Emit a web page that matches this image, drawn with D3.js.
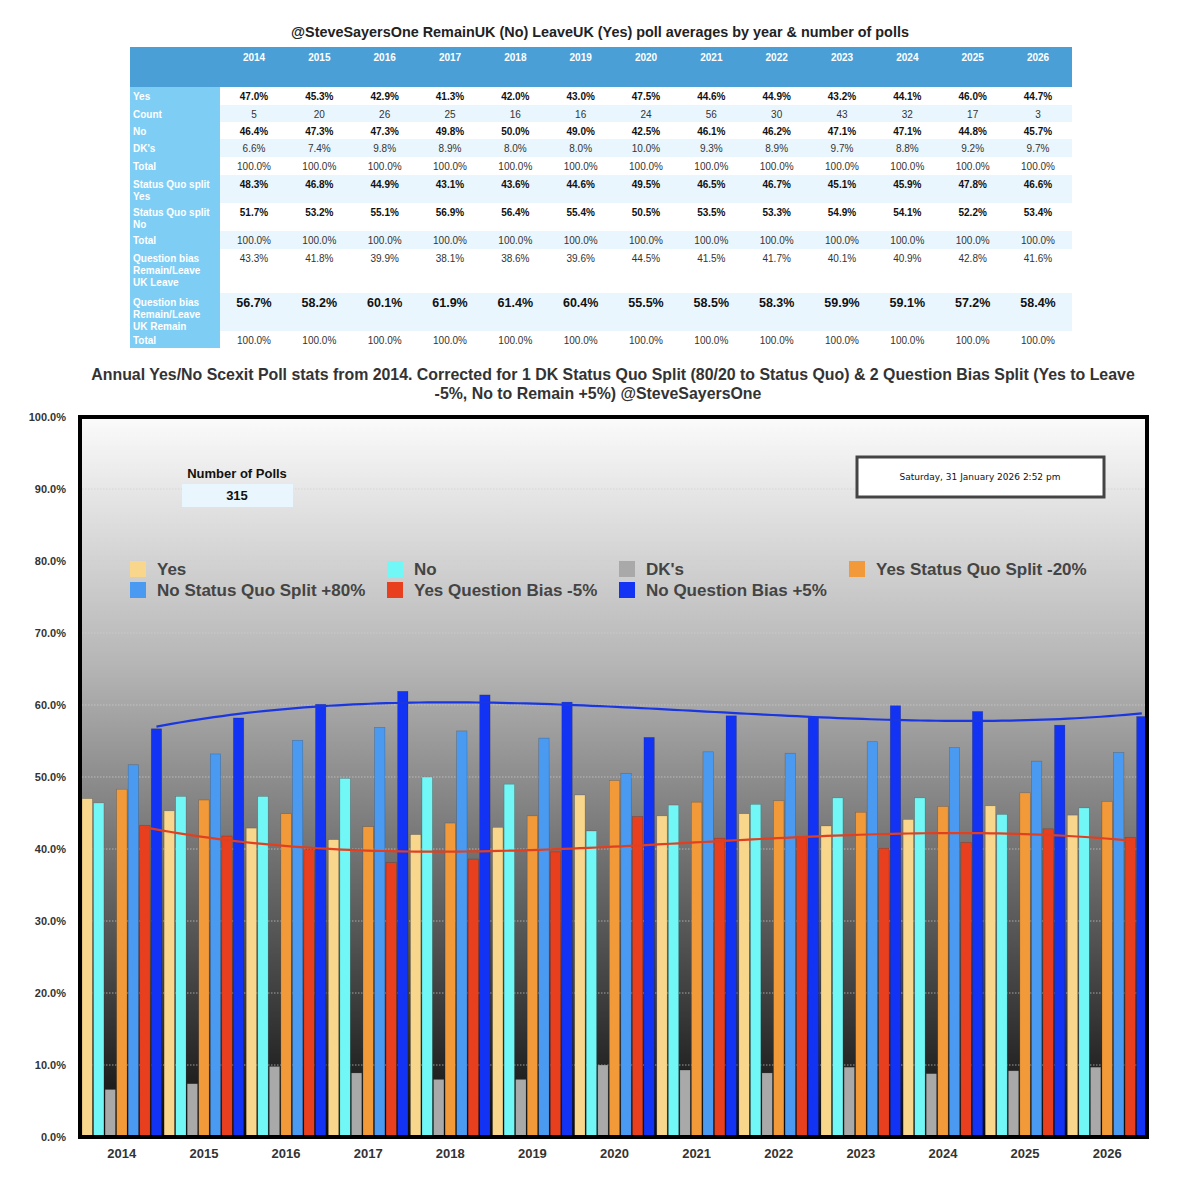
<!DOCTYPE html>
<html><head><meta charset="utf-8">
<script src="https://cdn.jsdelivr.net/npm/d3@7/dist/d3.min.js"></script>
<style>body{margin:0;background:#fff} svg{display:block} text{font-family:"Liberation Sans",Arial,Helvetica,sans-serif}</style>
</head><body>
<svg id="c" width="1200" height="1187"></svg>
<script>
// ---------------- DATA ----------------
const years = [2014,2015,2016,2017,2018,2019,2020,2021,2022,2023,2024,2025,2026];
const yesVals      = [47.0,45.3,42.9,41.3,42.0,43.0,47.5,44.6,44.9,43.2,44.1,46.0,44.7];
const countVals    = [5,20,26,25,16,16,24,56,30,43,32,17,3];
const noVals       = [46.4,47.3,47.3,49.8,50.0,49.0,42.5,46.1,46.2,47.1,47.1,44.8,45.7];
const dkVals       = [6.6,7.4,9.8,8.9,8.0,8.0,10.0,9.3,8.9,9.7,8.8,9.2,9.7];
const totalVals    = [100.0,100.0,100.0,100.0,100.0,100.0,100.0,100.0,100.0,100.0,100.0,100.0,100.0];
const sqYesVals    = [48.3,46.8,44.9,43.1,43.6,44.6,49.5,46.5,46.7,45.1,45.9,47.8,46.6];
const sqNoVals     = [51.7,53.2,55.1,56.9,56.4,55.4,50.5,53.5,53.3,54.9,54.1,52.2,53.4];
const qbLeaveVals  = [43.3,41.8,39.9,38.1,38.6,39.6,44.5,41.5,41.7,40.1,40.9,42.8,41.6];
const qbRemainVals = [56.7,58.2,60.1,61.9,61.4,60.4,55.5,58.5,58.3,59.9,59.1,57.2,58.4];
const yTicks = [0,10,20,30,40,50,60,70,80,90,100];
const seriesNames = ["Yes","No","DK's","Yes Status Quo Split -20%","No Status Quo Split +80%","Yes Question Bias -5%","No Question Bias +5%"];
const seriesColors = ["#f8d68c","#72f7f7","#a9a9a9","#f29a3a","#4a9af2","#e8401f","#1233f3"];
const numberOfPolls = 315;
const dateText = "Saturday, 31 January 2026 2:52 pm";
const tableTitle = "@SteveSayersOne RemainUK (No) LeaveUK (Yes) poll averages by year & number of polls";
const chartTitle1 = "Annual Yes/No Scexit Poll stats from 2014. Corrected for 1 DK Status Quo Split (80/20 to Status Quo) & 2 Question Bias Split (Yes to Leave";
const chartTitle2 = "-5%, No to Remain +5%) @SteveSayersOne";

// ---------------- SVG ----------------
const svg = d3.select("#c");
const pct = d => d.toFixed(1) + "%";

// ---------------- TABLE ----------------
svg.append("text").attr("x",600).attr("y",37).attr("text-anchor","middle")
  .attr("font-size",14.4).attr("font-weight","bold").attr("fill","#222").text(tableTitle);

const tL = 130, tR = 1072, labW = 90;
const rows = [
  {label:["Yes"], vals:yesVals, fmt:pct, bold:true},
  {label:["Count"], vals:countVals, fmt:d=>String(d), bold:false},
  {label:["No"], vals:noVals, fmt:pct, bold:true},
  {label:["DK's"], vals:dkVals, fmt:pct, bold:false},
  {label:["Total"], vals:totalVals, fmt:pct, bold:false},
  {label:["Status Quo split","Yes"], vals:sqYesVals, fmt:pct, bold:true},
  {label:["Status Quo split","No"], vals:sqNoVals, fmt:pct, bold:true},
  {label:["Total"], vals:totalVals, fmt:pct, bold:false},
  {label:["Question bias","Remain/Leave","UK Leave"], vals:qbLeaveVals, fmt:pct, bold:false},
  {label:["Question bias","Remain/Leave","UK Remain"], vals:qbRemainVals, fmt:pct, bold:true, big:true},
  {label:["Total"], vals:totalVals, fmt:pct, bold:false}
];
const rowTops = [87,105,122,139,157,175,203,231,249,293,331,348];

// header
svg.append("rect").attr("x",tL).attr("y",47).attr("width",tR-tL).attr("height",40).attr("fill","#4a9fd6");
// row stripes
rows.forEach((r,i)=>{
  svg.append("rect").attr("x",tL+labW).attr("y",rowTops[i]).attr("width",tR-tL-labW)
    .attr("height",rowTops[i+1]-rowTops[i]).attr("fill", i%2===1 ? "#eaf6fd" : "#ffffff");
});
// label column
svg.append("rect").attr("x",tL).attr("y",87).attr("width",labW).attr("height",348-87).attr("fill","#7dcdf5");

const colX = d3.scalePoint().domain(years).range([254,1038]);
svg.append("g").selectAll("text").data(years).join("text")
  .attr("x",d=>colX(d)).attr("y",61).attr("text-anchor","middle")
  .attr("font-size",10).attr("font-weight","bold").attr("fill","#fff").text(d=>d);

rows.forEach((r,i)=>{
  const cy = rowTops[i] + 9;
  const lab = svg.append("text").attr("x",tL+3).attr("y",cy+3.5)
    .attr("font-size",10).attr("font-weight","bold").attr("fill","#fff");
  r.label.forEach((l,j)=>lab.append("tspan").attr("x",tL+3).attr("dy", j===0?0:12).text(l));
  svg.append("g").selectAll("text").data(r.vals).join("text")
    .attr("x",(d,k)=>colX(years[k])).attr("y",cy + (r.big?4.5:3.5)).attr("text-anchor","middle")
    .attr("font-size", r.big?12.5:10).attr("font-weight", r.bold?"bold":"normal")
    .attr("fill", r.bold ? "#111" : "#333").text(d=>r.fmt(d));
});

// ---------------- CHART ----------------
svg.append("text").attr("x",613).attr("y",380).attr("text-anchor","middle")
  .attr("font-size",15.9).attr("font-weight","bold").attr("fill","#333").text(chartTitle1);
svg.append("text").attr("x",598).attr("y",399).attr("text-anchor","middle")
  .attr("font-size",15.9).attr("font-weight","bold").attr("fill","#333").text(chartTitle2);

const pL = 80, pR = 1147, pT = 417, pB = 1137;
const y = d3.scaleLinear().domain([0,100]).range([pB,pT]);
const x = d3.scaleBand().domain(years).range([82,1147]).paddingInner(0.03).paddingOuter(0);
const xi = d3.scaleBand().domain(d3.range(seriesNames.length)).range([0,x.bandwidth()]).paddingInner(0.1);

const defs = svg.append("defs");
const grad = defs.append("linearGradient").attr("id","bg").attr("x1",0).attr("y1",0).attr("x2",0).attr("y2",1);
grad.append("stop").attr("offset","0%").attr("stop-color","#fbfbfb");
grad.append("stop").attr("offset","35%").attr("stop-color","#b4b4b4");
grad.append("stop").attr("offset","100%").attr("stop-color","#0c0c0c");
svg.append("rect").attr("x",pL).attr("y",pT).attr("width",pR-pL).attr("height",pB-pT).attr("fill","url(#bg)");

// gridlines
svg.append("g").selectAll("line").data(yTicks.filter(d=>d>0 && d<100)).join("line")
  .attr("x1",pL+2).attr("x2",pR-2).attr("y1",d=>y(d)).attr("y2",d=>y(d))
  .attr("stroke","#cfcfcf").attr("stroke-opacity",0.7).attr("stroke-width",1).attr("stroke-dasharray","1.5,1.5");

// y axis
const yAx = svg.append("g").attr("transform",`translate(${pL},0)`)
  .call(d3.axisLeft(y).tickValues(yTicks).tickFormat(d=>d.toFixed(1)+"%").tickSize(0).tickPadding(14));
yAx.select(".domain").remove();
yAx.selectAll("text").attr("font-size",11).attr("font-weight","bold").attr("fill","#333")
  .style("font-family",'"Liberation Sans",Arial,sans-serif');

// number of polls
svg.append("text").attr("x",237).attr("y",478).attr("text-anchor","middle")
  .attr("font-size",13).attr("font-weight","bold").attr("fill","#111").text("Number of Polls");
svg.append("rect").attr("x",182).attr("y",484).attr("width",111).attr("height",23).attr("fill","#eaf6fd");
svg.append("text").attr("x",237).attr("y",500).attr("text-anchor","middle")
  .attr("font-size",13).attr("font-weight","bold").attr("fill","#111").text(numberOfPolls);

// date box
svg.append("rect").attr("x",857).attr("y",457).attr("width",247).attr("height",40)
  .attr("fill","#fff").attr("stroke","#444").attr("stroke-width",3);
svg.append("text").attr("x",980).attr("y",480).attr("text-anchor","middle")
  .attr("font-size",9).attr("fill","#111").style("font-family",'"DejaVu Sans",sans-serif').text(dateText);

// legend
const legPos = [[130,561],[387,561],[619,561],[849,561],[130,582],[387,582],[619,582]];
const leg = svg.append("g").selectAll("g").data(seriesNames).join("g")
  .attr("transform",(d,i)=>`translate(${legPos[i][0]},${legPos[i][1]})`);
leg.append("rect").attr("width",16).attr("height",16).attr("fill",(d,i)=>seriesColors[i]);
leg.append("text").attr("x",27).attr("y",14).attr("font-size",17).attr("font-weight","bold")
  .attr("fill","#444").text(d=>d);

// bars
const seriesData = [yesVals,noVals,dkVals,sqYesVals,sqNoVals,qbLeaveVals,qbRemainVals];
const grp = svg.append("g").selectAll("g").data(years).join("g")
  .attr("transform",d=>`translate(${x(d)},0)`);
grp.selectAll("rect").data((yr,k)=>seriesData.map((s,si)=>({si,v:s[k]}))).join("rect")
  .attr("x",d=>xi(d.si)).attr("width",xi.bandwidth())
  .attr("y",d=>y(d.v)).attr("height",d=>y(0)-y(d.v))
  .attr("fill",d=>seriesColors[d.si]).attr("stroke","rgba(0,0,0,0.25)").attr("stroke-width",0.6);

// polynomial trendlines
function polyfit(xs, ys, deg){
  const n = deg+1;
  const A = Array.from({length:n},()=>new Array(n+1).fill(0));
  for(let r=0;r<n;r++){
    for(let c=0;c<n;c++) A[r][c] = d3.sum(xs, xv=>Math.pow(xv,r+c));
    A[r][n] = d3.sum(xs.map((xv,i)=>ys[i]*Math.pow(xv,r)));
  }
  for(let i=0;i<n;i++){
    let m=i; for(let k=i+1;k<n;k++) if(Math.abs(A[k][i])>Math.abs(A[m][i])) m=k;
    [A[i],A[m]]=[A[m],A[i]];
    for(let k=i+1;k<n;k++){const f=A[k][i]/A[i][i]; for(let j=i;j<=n;j++) A[k][j]-=f*A[i][j];}
  }
  const c=new Array(n).fill(0);
  for(let i=n-1;i>=0;i--){let s=A[i][n]; for(let j=i+1;j<n;j++) s-=A[i][j]*c[j]; c[i]=s/A[i][i];}
  return t=>c.reduce((acc,ci,i)=>acc+ci*Math.pow(t,i),0);
}
const idx = years.map((d,i)=>i-6);
const samples = d3.range(-6,6.001,0.1);
[[5,qbLeaveVals,"#e0401f"],[6,qbRemainVals,"#1a36e0"]].forEach(([si,vals,col])=>{
  const f = polyfit(idx, vals, 3);
  const xp = d3.scaleLinear().domain([-6,6])
    .range([x(years[0])+xi(si)+xi.bandwidth()/2, x(years[years.length-1])+xi(si)+xi.bandwidth()/2]);
  svg.append("path").datum(samples).attr("fill","none").attr("stroke",col).attr("stroke-width",2.2)
    .attr("d",d3.line().x(t=>xp(t)).y(t=>y(f(t))));
});

// frame
svg.append("rect").attr("x",pL).attr("y",pT).attr("width",pR-pL).attr("height",pB-pT)
  .attr("fill","none").attr("stroke","#000").attr("stroke-width",4);

// x axis
const xAx = svg.append("g").attr("transform",`translate(0,${pB+4})`)
  .call(d3.axisBottom(x).tickSize(0).tickPadding(8));
xAx.select(".domain").remove();
xAx.selectAll("text").attr("font-size",13).attr("font-weight","bold").attr("fill","#333")
  .style("font-family",'"Liberation Sans",Arial,sans-serif');
</script>
</body></html>
